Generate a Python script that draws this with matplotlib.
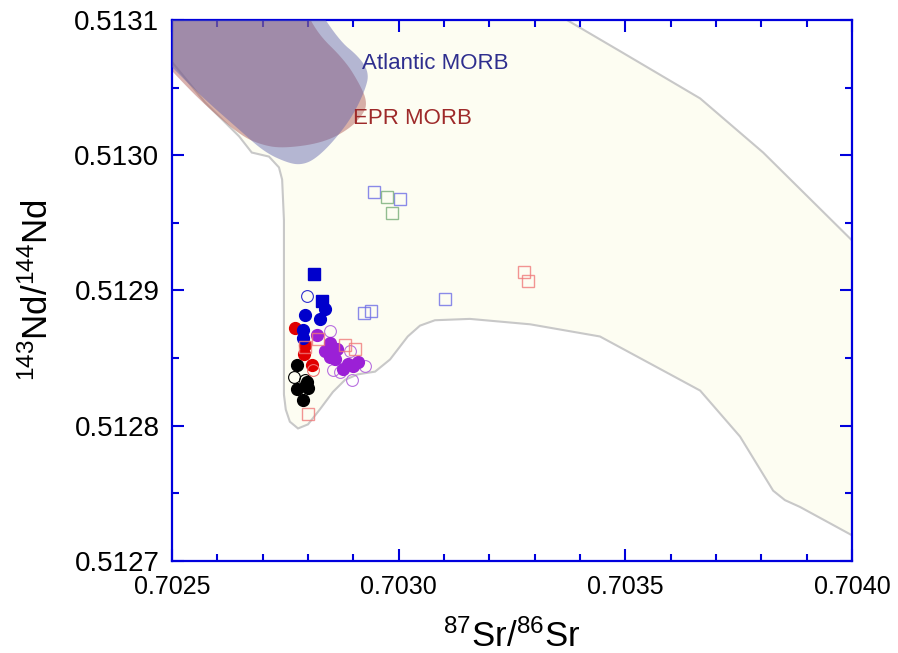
import numpy as np
import matplotlib.pyplot as plt

# Arial-like text, superscripts set in the same face
plt.rcParams['font.family'] = ['Liberation Sans', 'DejaVu Sans']
plt.rcParams['mathtext.fontset'] = 'custom'
plt.rcParams['mathtext.rm'] = 'Liberation Sans'
plt.rcParams['mathtext.it'] = 'Liberation Sans'

# mantle array field (outline of all MORB/OIB data)
field_sr = [0.70250, 0.703371, 0.703488, 0.703665, 0.703804, 0.704000, 0.704000,
            0.703885, 0.703852, 0.703826, 0.703753, 0.703665, 0.703444, 0.703290,
            0.703157, 0.703080, 0.703047, 0.703020, 0.702981, 0.702948, 0.702910,
            0.702882, 0.702855, 0.702826, 0.702800, 0.702778, 0.702760, 0.702751,
            0.702747, 0.702747, 0.702743, 0.702736, 0.702714, 0.702676, 0.702648,
            0.702573, 0.70250]
field_nd = [0.51310, 0.51310, 0.513077, 0.513042, 0.513002, 0.512937, 0.512719,
            0.512740, 0.512745, 0.512752, 0.512792, 0.512826, 0.512866, 0.512875,
            0.512879, 0.512878, 0.512874, 0.512866, 0.512849, 0.512840, 0.512838,
            0.512834, 0.512825, 0.512812, 0.512801, 0.512798, 0.512803, 0.512812,
            0.512823, 0.512952, 0.512982, 0.512991, 0.512999, 0.513002, 0.513014,
            0.513039, 0.513069]

atl_sr = [0.70240, 0.702800, 0.702868, 0.702912, 0.702935, 0.702926, 0.702897,
          0.702853, 0.702815, 0.702787, 0.702758, 0.702705, 0.702648, 0.702573,
          0.702500, 0.70240]
atl_nd = [0.51312, 0.51312, 0.513085, 0.513073, 0.513061, 0.513048, 0.513028,
          0.513009, 0.512997, 0.512993, 0.512994, 0.513002, 0.513019, 0.513041,
          0.513065, 0.51310]

epr_sr = [0.70240, 0.702780, 0.702815, 0.702882, 0.702915, 0.702930, 0.702924,
          0.702890, 0.702831, 0.702743, 0.702694, 0.702650, 0.702573, 0.702500,
          0.70240]
epr_nd = [0.51312, 0.51312, 0.513092, 0.513070, 0.513052, 0.513040, 0.513031,
          0.513019, 0.513009, 0.513005, 0.513008, 0.513015, 0.513037, 0.513062,
          0.51310]

# samples
blk_sr = [0.702776, 0.702797, 0.702800, 0.702775, 0.702790]
blk_nd = [0.512845, 0.512832, 0.512828, 0.512827, 0.512819]
blk_open_sr = [0.702770, 0.702793]
blk_open_nd = [0.512836, 0.512834]

red_sr = [0.702771, 0.702793, 0.702792, 0.702808]
red_nd = [0.512872, 0.512860, 0.512853, 0.512845]
red_open_sr = [0.702811]
red_open_nd = [0.512841]

blu_sr = [0.702838, 0.702793, 0.702826, 0.702790, 0.702790]
blu_nd = [0.512886, 0.512882, 0.512879, 0.512871, 0.512865]
blu_open_sr = [0.702798]
blu_open_nd = [0.512896]
blu_sq_sr = [0.702813, 0.702832]
blu_sq_nd = [0.512912, 0.512892]

pur_sr = [0.702819, 0.702849, 0.702838, 0.702863, 0.702849, 0.702860, 0.702889,
          0.702911, 0.702878, 0.702900]
pur_nd = [0.512867, 0.512861, 0.512855, 0.512857, 0.512851, 0.512849, 0.512846,
          0.512847, 0.512842, 0.512844]
pur_open_sr = [0.702849, 0.702893, 0.702926, 0.702856, 0.702871, 0.702896]
pur_open_nd = [0.512870, 0.512855, 0.512844, 0.512841, 0.512840, 0.512834]

pink_sq_sr = [0.702793, 0.702822, 0.702882, 0.702904, 0.702801, 0.703277, 0.703286]
pink_sq_nd = [0.512858, 0.512864, 0.512860, 0.512857, 0.512809, 0.512914, 0.512907]
bsq_sr = [0.702946, 0.703003, 0.703102, 0.702924, 0.702939]
bsq_nd = [0.512973, 0.512968, 0.512894, 0.512883, 0.512885]
gsq_sr = [0.702974, 0.702986]
gsq_nd = [0.512969, 0.512957]

xtick_vals = [0.7025, 0.7030, 0.7035, 0.7040]
ytick_vals = [0.5127, 0.5128, 0.5129, 0.5130, 0.5131]


def chaikin(xs, ys, n=3):
    # corner cutting on a closed outline
    p = np.column_stack([xs, ys])
    for _ in range(n):
        q = np.roll(p, -1, axis=0)
        a = 0.75 * p + 0.25 * q
        b = 0.25 * p + 0.75 * q
        p = np.stack([a, b], axis=1).reshape(-1, 2)
    return p[:, 0], p[:, 1]


fig = plt.figure(figsize=(8.98, 6.53), dpi=100)
ax = fig.add_axes([0.1915, 0.1409, 0.7573, 0.8285])

ax.fill(field_sr, field_nd, facecolor='#fdfdf2', edgecolor='#c8c8c8', lw=1.5, zorder=1)
ex, ey = chaikin(epr_sr, epr_nd)
ax.fill(ex, ey, facecolor='#b3635d', alpha=0.5, edgecolor='none', zorder=2)
axx, axy = chaikin(atl_sr, atl_nd)
ax.fill(axx, axy, facecolor='#5d61ac', alpha=0.45, edgecolor='none', zorder=3)

ax.text(0.702919, 0.513068, 'Atlantic MORB', color='#2e2e8e', fontsize=16, va='center', zorder=4)
ax.text(0.702900, 0.513027, 'EPR MORB', color='#9e2a2a', fontsize=16, va='center', zorder=4)

ms = 8.5
ax.plot(blk_sr, blk_nd, 'o', color='black', ms=ms, zorder=5)
ax.plot(blk_open_sr, blk_open_nd, 'o', mfc='none', mec='black', mew=0.8, ms=ms, zorder=5)
ax.plot(red_sr, red_nd, 'o', color='#e00000', ms=ms, zorder=5)
ax.plot(red_open_sr, red_open_nd, 'o', mfc='none', mec='#f07070', mew=0.8, ms=ms, zorder=5)
ax.plot(blu_sr, blu_nd, 'o', color='#0000cc', ms=ms, zorder=6)
ax.plot(blu_open_sr, blu_open_nd, 'o', mfc='none', mec='#3030d0', mew=0.8, ms=ms, zorder=6)
ax.plot(blu_sq_sr, blu_sq_nd, 's', color='#0000cc', ms=8, zorder=6)
ax.plot(pur_open_sr, pur_open_nd, 'o', mfc='none', mec='#b870e0', mew=0.8, ms=ms, zorder=6)
ax.plot(pur_sr, pur_nd, 'o', color='#9b20d6', ms=ms, zorder=7)
ax.plot(pink_sq_sr, pink_sq_nd, 's', mfc='none', mec='#f07a7a', mew=1, ms=8, alpha=0.8, zorder=8)
ax.plot(bsq_sr, bsq_nd, 's', mfc='none', mec='#6e6ee6', mew=1, ms=8, alpha=0.8, zorder=8)
ax.plot(gsq_sr, gsq_nd, 's', mfc='none', mec='#86b686', mew=1, ms=8, alpha=0.9, zorder=8)

ax.set_xlim(0.7025, 0.7040)
ax.set_ylim(0.5127, 0.5131)
ax.set_xticks(xtick_vals)
ax.set_xticks(np.arange(0.7025, 0.70401, 0.0001), minor=True)
ax.set_yticks(ytick_vals)
ax.set_yticks(np.arange(0.5127, 0.51311, 0.00005), minor=True)
ax.set_xticklabels([f'{v:.4f}' for v in xtick_vals], fontsize=18)
ax.set_yticklabels([f'{v:.4f}' for v in ytick_vals], fontsize=20)

blue = '#0000dd'
for s in ax.spines.values():
    s.set_color(blue)
    s.set_linewidth(1.6)
ax.tick_params(which='both', direction='in', color=blue, width=1.5,
               top=True, right=True)
ax.tick_params(which='major', length=8.5)
ax.tick_params(which='minor', length=5)
ax.tick_params(axis='y', which='major', pad=9)
ax.tick_params(axis='x', which='major', pad=10)

ax.set_xlabel(r'$^{87}$Sr/$^{86}$Sr', fontsize=25, labelpad=15)
ax.set_ylabel(r'$^{143}$Nd/$^{144}$Nd', fontsize=25, labelpad=14)

plt.savefig('out.png', dpi=100)
plt.close()
